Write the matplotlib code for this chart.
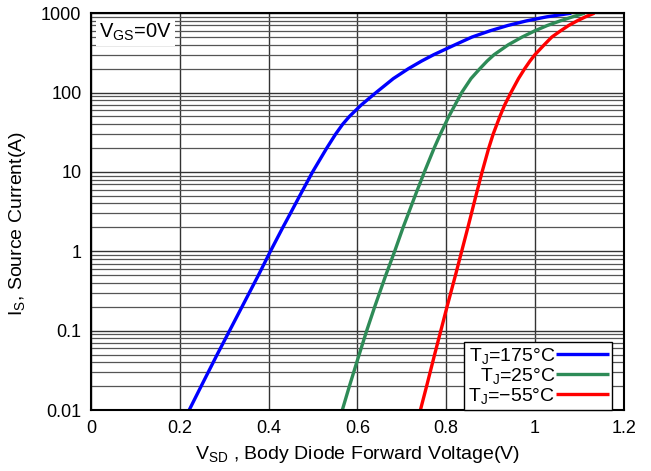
import matplotlib
matplotlib.use('Agg')
import matplotlib.pyplot as plt
import matplotlib.ticker as mticker
import numpy as np

plt.rcParams['font.family'] = ['Liberation Sans', 'DejaVu Sans']
plt.rcParams['mathtext.fontset'] = 'custom'
plt.rcParams['mathtext.rm'] = 'Liberation Sans'
plt.rcParams['mathtext.it'] = 'Liberation Sans'
plt.rcParams['mathtext.bf'] = 'Liberation Sans:bold'

# (V, A)
v_175 = [0.221, 0.248, 0.284, 0.312, 0.340, 0.377, 0.404, 0.432, 0.449, 0.470,
         0.499, 0.531, 0.551, 0.567, 0.582, 0.609, 0.642, 0.681, 0.715, 0.745,
         0.772, 0.820, 0.858, 0.899, 0.939, 0.981, 1.027, 1.082]
i_175 = [0.01, 0.02, 0.05, 0.1, 0.2, 0.5, 1, 2, 3, 5,
         10, 20, 30, 40, 50, 70, 100, 150, 200, 250,
         300, 400, 500, 600, 700, 800, 900, 1000]

v_25 = [0.566, 0.582, 0.604, 0.621, 0.639, 0.664, 0.684, 0.703, 0.715, 0.730,
        0.751, 0.773, 0.787, 0.806, 0.835, 0.856, 0.876, 0.8925, 0.908, 0.940,
        0.971, 1.0, 1.028, 1.057, 1.085, 1.112]
i_25 = [0.01, 0.02, 0.05, 0.1, 0.2, 0.5, 1, 2, 3, 5,
        10, 20, 30, 50, 100, 150, 200, 250, 300, 400,
        500, 600, 700, 800, 900, 1000]

v_m55 = [0.742, 0.756, 0.774, 0.788, 0.802, 0.821, 0.835, 0.849, 0.857, 0.867,
         0.881, 0.896, 0.906, 0.921, 0.932, 0.946, 0.963, 0.977, 0.989, 1.0,
         1.021, 1.038, 1.058, 1.076, 1.095, 1.114, 1.134]
i_m55 = [0.01, 0.02, 0.05, 0.1, 0.2, 0.5, 1, 2, 3, 5,
         10, 20, 30, 50, 70, 100, 150, 200, 250, 300,
         400, 500, 600, 700, 800, 900, 1000]

x_ticks = [0, 0.2, 0.4, 0.6, 0.8, 1, 1.2]
x_labels = ['0', '0.2', '0.4', '0.6', '0.8', '1', '1.2']
y_ticks = [0.01, 0.1, 1, 10, 100, 1000]
y_labels = ['0.01', '0.1', '1', '10', '100', '1000']

fig = plt.figure(figsize=(6.51, 4.71), dpi=100)
ax = fig.add_axes([0.14, 0.1295, 0.818, 0.8425])

kw = dict(lw=2.4, solid_joinstyle='round', solid_capstyle='butt')
ax.plot(v_175, i_175, color='#0000ff', label=r'T$_\mathregular{J}$=175°C', **kw)
ax.plot(v_25, i_25, color='#2e8b57', label=r'T$_\mathregular{J}$=25°C', **kw)
ax.plot(v_m55, i_m55, color='#ff0000', label=r'T$_\mathregular{J}$=−55°C', **kw)

ax.set_yscale('log')
ax.set_xlim(0, 1.2)
ax.set_ylim(0.01, 1000)
ax.set_xticks(x_ticks)
ax.set_xticklabels(x_labels)
ax.set_yticks(y_ticks)
ax.set_yticklabels(y_labels)
ax.yaxis.set_minor_locator(mticker.LogLocator(base=10, subs=np.arange(2, 10)))
ax.yaxis.set_minor_formatter(mticker.NullFormatter())
ax.tick_params(which='both', length=0, labelsize=13, pad=7)

ax.grid(True, which='major', axis='both', color='#333333', lw=1.0)
ax.grid(True, which='minor', axis='y', color='#555555', lw=0.9)
ax.set_axisbelow(True)
for s in ax.spines.values():
    s.set_linewidth(1.5)
    s.set_color('black')

ax.set_xlabel(r'V$_\mathregular{SD}$ , Body Diode Forward Voltage(V)', fontsize=14, labelpad=5)
ax.set_ylabel(r'I$_\mathregular{S}$, Source Current(A)', fontsize=14)
ax.yaxis.set_label_coords(-0.118, 0.47)

ax.text(0.015, 0.978, r'V$_\mathregular{GS}$=0V', transform=ax.transAxes, fontsize=14.5,
        va='top', ha='left',
        bbox=dict(facecolor='white', edgecolor='none', pad=2.0))

leg = ax.legend(loc='lower right', markerfirst=False, fontsize=14, frameon=True,
                fancybox=False, edgecolor='black', framealpha=1,
                handlelength=2.7, handletextpad=0.05, labelspacing=0.0,
                borderpad=0.2, borderaxespad=0.0, bbox_to_anchor=(0.979, 0.0))
leg.get_frame().set_linewidth(1.0)

fig.savefig('out.png', dpi=100)
